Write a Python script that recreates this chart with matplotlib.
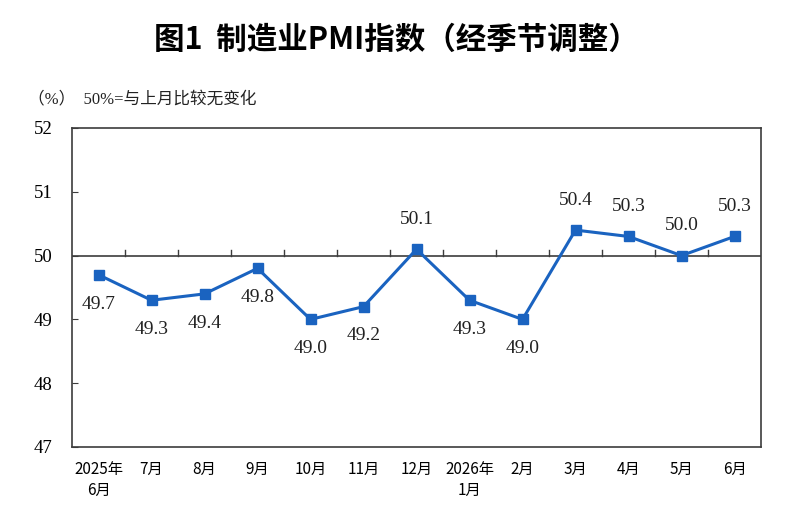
import matplotlib
matplotlib.use("Agg")
import matplotlib.pyplot as plt
import numpy as np

# 月份标签与PMI数值
months = ["2025年\n6月", "7月", "8月", "9月", "10月", "11月", "12月",
          "2026年\n1月", "2月", "3月", "4月", "5月", "6月"]
pmi = [49.7, 49.3, 49.4, 49.8, 49.0, 49.2, 50.1, 49.3, 49.0, 50.4, 50.3, 50.0, 50.3]
# 标签位置：下方为 -1，上方为 +1
label_side = [-1, -1, -1, -1, -1, -1, 1, -1, -1, 1, 1, 1, 1]

cjk = ["Noto Sans CJK SC", "DejaVu Sans"]
serif = ["Liberation Serif", "Noto Sans CJK SC"]
blue = "#1a63c0"
dark = "#3c3c3c"

fig = plt.figure(figsize=(7.92, 5.22), dpi=100)
ax = fig.add_axes([72 / 792, 75 / 522, 689 / 792, 319 / 522])

x = np.arange(len(pmi))
ax.plot(x, pmi, color=blue, lw=2.2, marker="s", ms=6.5, zorder=3)
ax.axhline(50, color=dark, lw=1.2, zorder=2)

# 50 线上的分类刻度
for b in np.arange(0.5, len(pmi) - 1, 1.0):
    ax.plot([b, b], [50, 50.08], color=dark, lw=1.0, zorder=2)

# 数据标签
for xi, v, s in zip(x, pmi, label_side):
    if s > 0:
        ax.annotate(f"{v:.1f}", (xi, v), xytext=(0, 15.5), textcoords="offset points",
                    ha="center", va="bottom", fontsize=14, family=serif, color="#222222")
    else:
        ax.annotate(f"{v:.1f}", (xi, v), xytext=(0, -15), textcoords="offset points",
                    ha="center", va="top", fontsize=14, family=serif, color="#222222")

ax.set_xlim(-0.5, len(pmi) - 0.5)
ax.set_ylim(47, 52)
ax.set_yticks([47, 48, 49, 50, 51, 52])
ax.tick_params(axis="y", direction="in", length=4, pad=14, color=dark)
ax.tick_params(axis="x", length=0, pad=10)
ax.set_xticks(x)
ax.set_xticklabels(months, family=cjk, fontsize=11, linespacing=1.3)
for t in ax.get_yticklabels():
    t.set_family(serif)
    t.set_fontsize(13.5)
for sp in ax.spines.values():
    sp.set_color(dark)
    sp.set_linewidth(1.2)

fig.text(0.5, 1 - 40 / 522, "图1  制造业PMI指数（经季节调整）", ha="center", va="center",
         fontsize=22, fontweight="bold", family=cjk)
fig.text(28 / 792, 1 - 100 / 522, "（%）  50%=与上月比较无变化", ha="left", va="center",
         fontsize=12, family=serif, color="#222222")

fig.savefig("out.png", dpi=100)
